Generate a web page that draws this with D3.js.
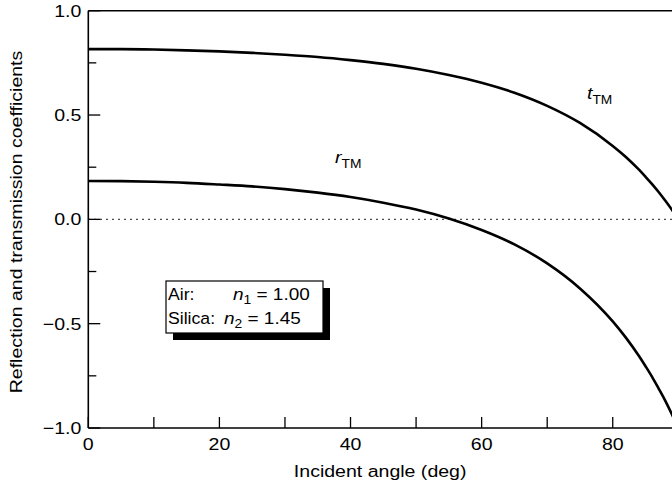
<!DOCTYPE html>
<html>
<head>
<meta charset="utf-8">
<script src="https://cdn.jsdelivr.net/npm/d3@7/dist/d3.min.js"></script>
<style>
  html, body { margin: 0; padding: 0; background: #fff; }
  svg { display: block; font-family: "Liberation Sans", Arial, sans-serif; }
</style>
</head>
<body>
<svg id="chart" width="672" height="492"></svg>
<script>
// incident angle (deg)
var angles = [0, 5, 10, 15, 20, 25, 30, 35, 40, 45, 50, 55, 60, 65, 70, 75, 80, 82, 84, 85, 86, 87, 88, 89, 90];
var rTM = [0.184, 0.183, 0.180, 0.175, 0.167, 0.158, 0.145, 0.128, 0.107, 0.080, 0.047, 0.004, -0.051, -0.120, -0.211, -0.331, -0.489, -0.567, -0.655, -0.704, -0.755, -0.811, -0.869, -0.933, -1.0];
var tTM = [0.816, 0.816, 0.814, 0.810, 0.805, 0.798, 0.789, 0.778, 0.763, 0.745, 0.722, 0.692, 0.655, 0.607, 0.544, 0.462, 0.352, 0.299, 0.238, 0.204, 0.169, 0.131, 0.090, 0.047, 0.0];
var xTicks = [0, 10, 20, 30, 40, 50, 60, 70, 80, 90];
var xLabels = [0, 20, 40, 60, 80];
var yMajor = [-1, -0.5, 0, 0.5, 1];
var yMinor = [-0.75, -0.25, 0.25, 0.75];

var svg = d3.select("#chart"),
    W = +svg.attr("width");
var sx = 1.15; // reference glyphs are wider than Liberation Sans

var x = d3.scaleLinear().domain([0, 90]).range([88.3, 678.3]);
var y = d3.scaleLinear().domain([-1, 1]).range([428, 10.7]);

// zero line
svg.append("line")
  .attr("x1", x(0)).attr("x2", W)
  .attr("y1", y(0)).attr("y2", y(0))
  .attr("stroke", "#000").attr("stroke-width", 1.4)
  .attr("stroke-dasharray", "1.4,4.6");

// x axis (ticks inward)
var xg = svg.append("g").attr("transform", "translate(0," + y(-1) + ")");
xg.append("line").attr("x1", x(0)).attr("x2", W).attr("stroke", "#000").attr("stroke-width", 1.6);
xg.selectAll(".xt").data(xTicks).enter().append("line")
  .attr("x1", function(d) { return x(d); }).attr("x2", function(d) { return x(d); })
  .attr("y1", 0).attr("y2", -11)
  .attr("stroke", "#000").attr("stroke-width", 1.3);
xg.selectAll(".xl").data(xLabels).enter().append("text")
  .attr("transform", function(d) { return "translate(" + x(d) + ",22) scale(" + sx + ",1)"; })
  .attr("text-anchor", "middle").attr("font-size", 17)
  .text(function(d) { return d; });

// top frame
svg.append("line").attr("x1", x(0)).attr("x2", W).attr("y1", y(1)).attr("y2", y(1))
  .attr("stroke", "#000").attr("stroke-width", 1.6);

// y axis
var yg = svg.append("g").attr("transform", "translate(" + x(0) + ",0)");
yg.append("line").attr("y1", y(-1)).attr("y2", y(1)).attr("stroke", "#000").attr("stroke-width", 1.6);
yg.selectAll(".ym").data(yMajor).enter().append("line")
  .attr("y1", function(d) { return y(d); }).attr("y2", function(d) { return y(d); })
  .attr("x1", 0).attr("x2", 12)
  .attr("stroke", "#000").attr("stroke-width", 1.3);
yg.selectAll(".yn").data(yMinor).enter().append("line")
  .attr("y1", function(d) { return y(d); }).attr("y2", function(d) { return y(d); })
  .attr("x1", 0).attr("x2", 8)
  .attr("stroke", "#000").attr("stroke-width", 1.3);
yg.selectAll(".yl").data(yMajor).enter().append("text")
  .attr("transform", function(d) { return "translate(-7," + y(d) + ") scale(" + sx + ",1)"; })
  .attr("text-anchor", "end").attr("dy", "0.35em").attr("font-size", 17)
  .text(function(d) { return d3.format(".1f")(d).replace("-", "\u2212"); });

// axis titles
svg.append("text")
  .attr("transform", "translate(" + ((x(0) + W) / 2) + ",477) scale(" + sx + ",1)")
  .attr("text-anchor", "middle").attr("font-size", 17)
  .text("Incident angle (deg)");
svg.append("text")
  .attr("transform", "translate(22,222) rotate(-90) scale(" + sx + ",1)")
  .attr("text-anchor", "middle").attr("font-size", 17)
  .text("Reflection and transmission coefficients");

// curves
var line = d3.line()
  .x(function(d) { return x(d[0]); })
  .y(function(d) { return y(d[1]); })
  .curve(d3.curveMonotoneX);
[rTM, tTM].forEach(function(vals) {
  svg.append("path")
    .datum(angles.map(function(a, i) { return [a, vals[i]]; }))
    .attr("d", line)
    .attr("fill", "none").attr("stroke", "#000").attr("stroke-width", 2.6);
});

// curve labels
function subLabel(px, py, main, sub) {
  var t = svg.append("text").attr("transform", "translate(" + px + "," + py + ") scale(" + sx + ",1)")
    .attr("font-size", 17);
  t.append("tspan").attr("font-style", "italic").text(main);
  t.append("tspan").attr("font-size", 12).attr("dy", 5).text(sub);
}
subLabel(335, 163, "r", "TM");
subLabel(587, 99, "t", "TM");

// medium box with drop shadow
var bx = 166, by = 281, bw = 157, bh = 52;
svg.append("rect").attr("x", bx + 7).attr("y", by + 7).attr("width", bw).attr("height", bh).attr("fill", "#000");
svg.append("rect").attr("x", bx).attr("y", by).attr("width", bw).attr("height", bh)
  .attr("fill", "#fff").attr("stroke", "#000").attr("stroke-width", 1.2);
var rows = [["Air:", "1", "1.00", 67], ["Silica:", "2", "1.45", 58]];
rows.forEach(function(r, i) {
  var yy = by + 18.5 + i * 24;
  svg.append("text").attr("transform", "translate(" + (bx + 2) + "," + yy + ") scale(1.07,1)")
    .attr("font-size", 16.5).text(r[0]);
  var t = svg.append("text").attr("transform", "translate(" + (bx + r[3]) + "," + yy + ") scale(" + sx + ",1)")
    .attr("font-size", 16.5);
  t.append("tspan").attr("font-style", "italic").text("n");
  t.append("tspan").attr("font-size", 12).attr("dy", 4).text(r[1]);
  t.append("tspan").attr("dy", -4).text(" = " + r[2]);
});
</script>
</body>
</html>
